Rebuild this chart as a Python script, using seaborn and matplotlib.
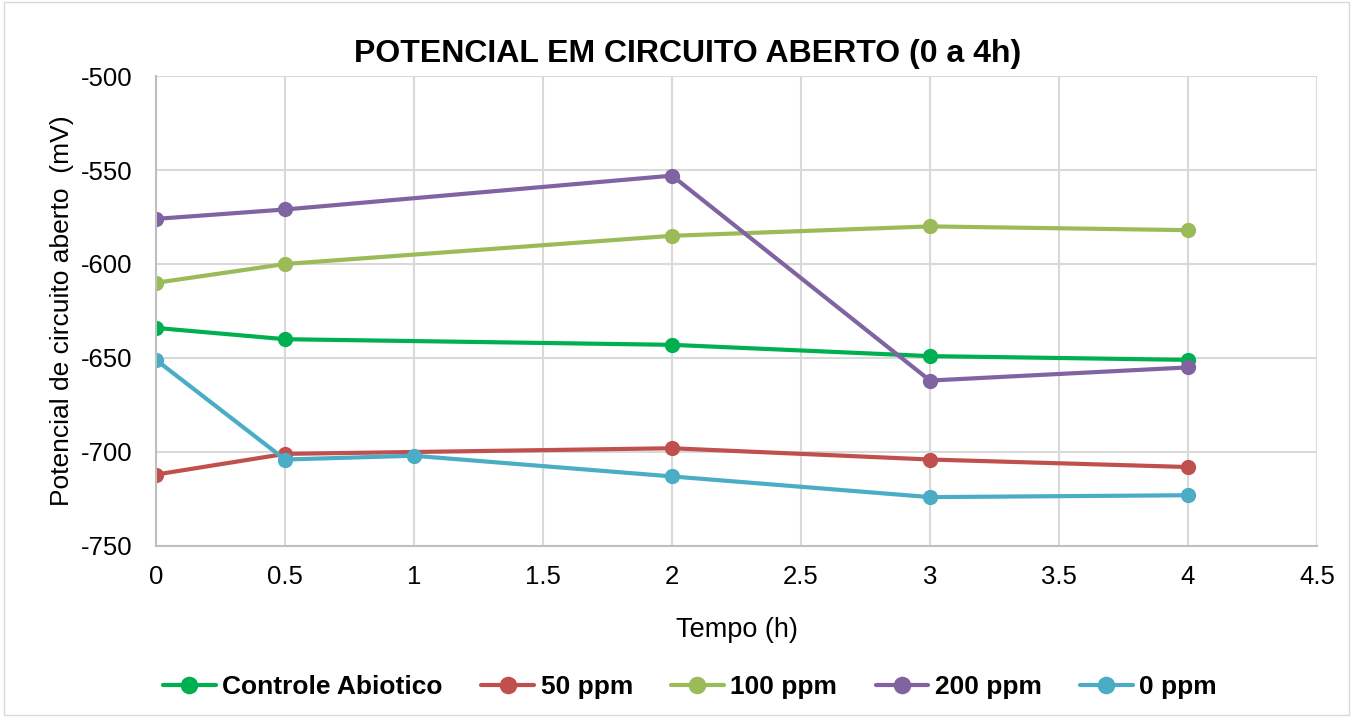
import matplotlib
matplotlib.use("Agg")
import matplotlib.pyplot as plt
import seaborn as sns
import pandas as pd

series_names = ["Controle Abiotico", "50 ppm", "100 ppm", "200 ppm", "0 ppm"]
x_ctrl = [0, 0.5, 2, 3, 4]
y_ctrl = [-634, -640, -643, -649, -651]
x_50 = [0, 0.5, 2, 3, 4]
y_50 = [-712, -701, -698, -704, -708]
x_100 = [0, 0.5, 2, 3, 4]
y_100 = [-610, -600, -585, -580, -582]
x_200 = [0, 0.5, 2, 3, 4]
y_200 = [-576, -571, -553, -662, -655]
x_0 = [0, 0.5, 1, 2, 3, 4]
y_0 = [-651, -704, -702, -713, -724, -723]
colors = ["#00B050", "#C0504D", "#9BBB59", "#8064A2", "#4BACC6"]
x_ticks = [0, 0.5, 1, 1.5, 2, 2.5, 3, 3.5, 4, 4.5]
x_tick_labels = ["0", "0.5", "1", "1.5", "2", "2.5", "3", "3.5", "4", "4.5"]
y_ticks = [-750, -700, -650, -600, -550, -500]

rows = []
for name, xs, ys in zip(series_names,
                        [x_ctrl, x_50, x_100, x_200, x_0],
                        [y_ctrl, y_50, y_100, y_200, y_0]):
    for a, b in zip(xs, ys):
        rows.append({"Tempo": a, "Valor": b, "Serie": name})
df = pd.DataFrame(rows)

sns.set_theme(style="white")
plt.rcParams['font.family'] = ['Liberation Sans', 'DejaVu Sans']
plt.rcParams['axes.unicode_minus'] = False
plt.rcParams['text.color'] = 'black'
plt.rcParams['axes.labelcolor'] = 'black'
plt.rcParams['xtick.color'] = 'black'
plt.rcParams['ytick.color'] = 'black'

fig = plt.figure(figsize=(13.53, 7.17), dpi=100)
ax = fig.add_axes([0.1153, 0.2385, 0.8581, 0.6555])

sns.lineplot(data=df, x="Tempo", y="Valor", hue="Serie", hue_order=series_names,
             palette=colors, marker="o", markersize=11, markeredgewidth=0,
             linewidth=3, ax=ax, estimator=None, sort=False)

ax.set_xlim(0, 4.5)
ax.set_ylim(-750, -500)
ax.set_xticks(x_ticks)
ax.set_xticklabels(x_tick_labels)
ax.set_yticks(y_ticks)
ax.tick_params(axis="both", labelsize=18.5, colors="black", length=0)
ax.tick_params(axis="x", pad=14)
ax.tick_params(axis="y", pad=17)
ax.grid(True, color="#D9D9D9", linewidth=1.5)
for s in ["top", "right"]:
    ax.spines[s].set_visible(False)
ax.spines["left"].set_color("#BFBFBF")
ax.spines["bottom"].set_color("#BFBFBF")
ax.spines["left"].set_linewidth(1.5)
ax.spines["bottom"].set_linewidth(1.5)

ax.set_xlabel("Tempo (h)", fontsize=19.5, labelpad=20)
ax.set_ylabel("Potencial de circuito aberto  (mV)", fontsize=19, labelpad=5)
fig.text(0.508, 0.925, "POTENCIAL EM CIRCUITO ABERTO (0 a 4h)", fontsize=23,
         fontweight="bold", ha="center", va="center")

leg = ax.legend(loc="center", bbox_to_anchor=(0.51, 0.042), bbox_transform=fig.transFigure,
                ncol=5, frameon=False,
                prop={"size": 19, "weight": "bold"}, handlelength=2.0, columnspacing=1.45,
                handletextpad=0.25, markerscale=1.15)

border = plt.Rectangle((0.003, 0.003), 0.994, 0.994, transform=fig.transFigure,
                       fill=False, edgecolor="#D9D9D9", linewidth=1)
fig.patches.append(border)

fig.savefig("out.png", dpi=100)
